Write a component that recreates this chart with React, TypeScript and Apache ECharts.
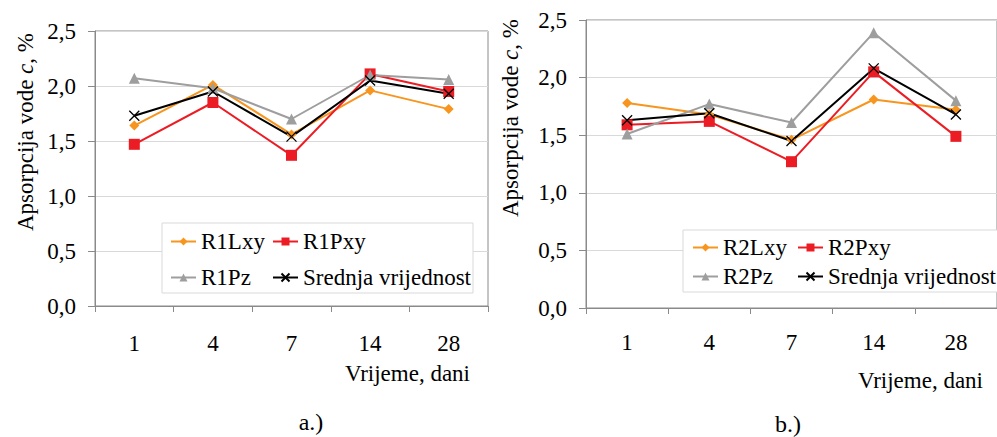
import React, { useEffect, useRef } from "react";
import * as echarts from "echarts";

const categories = ["1", "4", "7", "14", "28"];

const r1Lxy = [1.64, 2.01, 1.56, 1.96, 1.79];
const r1Pxy = [1.47, 1.85, 1.37, 2.11, 1.95];
const r1Pz = [2.07, 1.98, 1.7, 2.1, 2.06];
const r1Mean = [1.73, 1.95, 1.54, 2.05, 1.93];

const r2Lxy = [1.78, 1.68, 1.46, 1.81, 1.72];
const r2Pxy = [1.59, 1.62, 1.27, 2.05, 1.49];
const r2Pz = [1.51, 1.77, 1.61, 2.39, 1.8];
const r2Mean = [1.63, 1.69, 1.45, 2.08, 1.68];

const yMin = 0;
const yMax = 2.5;
const yStep = 0.5;

const yTitle = "Apsorpcija vode {i|c}, %";
const xTitle = "Vrijeme, dani";
const captions = ["a.)", "b.)"];
const meanName = "Srednja vrijednost";

const FONT = "Liberation Serif";
const FS = 23;
const ORANGE = "#F7951E";
const RED = "#EC1C24";
const GRAY = "#9E9E9E";
const BLACK = "#000000";
const AXIS = "#8A8A8A";
const GRID = "#D9D9D9";

const XPATH = "path://M0,0L10,10M0,10L10,0";

function makeSeries(name: string, data: number[], color: string, symbol: string, size: number, idx: number) {
  return {
    type: "line",
    name,
    data,
    xAxisIndex: idx,
    yAxisIndex: idx,
    symbol,
    symbolSize: size,
    lineStyle: { color, width: 2 },
    itemStyle:
      symbol === XPATH
        ? { color: "rgba(0,0,0,0)", borderColor: color, borderWidth: 1.3 }
        : { color, borderColor: color, borderWidth: 0 },
    emphasis: { disabled: true },
    z: 5,
  };
}

function xAxisOpt(idx: number, margin: number) {
  return {
    type: "category",
    gridIndex: idx,
    data: categories,
    boundaryGap: true,
    axisLine: { lineStyle: { color: AXIS, width: 1 } },
    axisTick: { show: true, length: 6, interval: 0, lineStyle: { color: AXIS } },
    axisLabel: { margin, fontSize: FS, fontFamily: FONT, color: BLACK },
    splitLine: { show: false },
  };
}

function yAxisOpt(idx: number) {
  return {
    type: "value",
    gridIndex: idx,
    min: yMin,
    max: yMax,
    interval: yStep,
    axisLine: { show: true, lineStyle: { color: AXIS, width: 1 } },
    axisTick: { show: true, length: 7, lineStyle: { color: AXIS } },
    axisLabel: {
      margin: 19,
      fontSize: FS,
      fontFamily: FONT,
      color: BLACK,
      formatter: (v: number) => v.toFixed(1).replace(".", ","),
    },
    splitLine: { show: true, lineStyle: { color: GRID, width: 1 } },
  };
}

function legendItem(name: string, left: number, top: number) {
  return {
    data: [name],
    left,
    top,
    padding: 0,
    itemWidth: 25,
    itemHeight: 10,
    itemGap: 0,
    selectedMode: false,
    z: 10,
    textStyle: { fontSize: FS, fontFamily: FONT, color: BLACK, padding: [0, 0, 0, 0] },
  };
}

export default function App() {
  const ref = useRef<HTMLDivElement>(null);

  useEffect(() => {
    if (!ref.current) return;
    const chart = echarts.init(ref.current, undefined, { renderer: "svg" });

    const textStyle = (text: string, size = FS) => ({
      text,
      fontSize: size,
      fontFamily: FONT,
      fill: BLACK,
    });

    chart.setOption({
      animation: false,
      backgroundColor: "#ffffff",
      textStyle: { fontFamily: FONT },
      grid: [
        { left: 95, top: 31, width: 393, height: 275, show: true, borderColor: AXIS, borderWidth: 1, containLabel: false },
        { left: 586, top: 20, width: 420, height: 288, show: true, borderColor: AXIS, borderWidth: 1, containLabel: false },
      ],
      xAxis: [xAxisOpt(0, 26), xAxisOpt(1, 23)],
      yAxis: [yAxisOpt(0), yAxisOpt(1)],
      legend: [
        legendItem("R1Lxy", 170, 230),
        legendItem("R1Pxy", 272, 230),
        legendItem("R1Pz", 170, 266),
        legendItem(meanName, 272, 266),
        legendItem("R2Lxy", 692, 236),
        legendItem("R2Pxy", 797, 236),
        legendItem("R2Pz", 692, 265),
        legendItem(meanName, 797, 265),
      ],
      series: [
        makeSeries("R1Lxy", r1Lxy, ORANGE, "diamond", 10, 0),
        makeSeries("R1Pxy", r1Pxy, RED, "rect", 11, 0),
        makeSeries("R1Pz", r1Pz, GRAY, "triangle", 11, 0),
        makeSeries(meanName, r1Mean, BLACK, XPATH, 10, 0),
        makeSeries("R2Lxy", r2Lxy, ORANGE, "diamond", 10, 1),
        makeSeries("R2Pxy", r2Pxy, RED, "rect", 11, 1),
        makeSeries("R2Pz", r2Pz, GRAY, "triangle", 11, 1),
        makeSeries(meanName, r2Mean, BLACK, XPATH, 10, 1),
      ],
      graphic: [
        {
          type: "rect",
          z: 3,
          shape: { x: 162, y: 223, width: 311, height: 70 },
          style: { fill: "#ffffff", stroke: GRID, lineWidth: 1 },
        },
        {
          type: "rect",
          z: 3,
          shape: { x: 683, y: 230, width: 330, height: 62 },
          style: { fill: "#ffffff", stroke: GRID, lineWidth: 1 },
        },
        {
          type: "text",
          z: 10,
          x: 25,
          y: 132,
          rotation: Math.PI / 2,
          style: {
            ...textStyle(yTitle),
            align: "center",
            verticalAlign: "middle",
            rich: { i: { fontStyle: "italic", fontSize: FS, fontFamily: FONT, fill: BLACK } },
          },
        },
        {
          type: "text",
          z: 10,
          x: 510,
          y: 118,
          rotation: Math.PI / 2,
          style: {
            ...textStyle(yTitle),
            align: "center",
            verticalAlign: "middle",
            rich: { i: { fontStyle: "italic", fontSize: FS, fontFamily: FONT, fill: BLACK } },
          },
        },
        {
          type: "text",
          z: 10,
          x: 470,
          y: 373,
          style: { ...textStyle(xTitle), align: "right", verticalAlign: "middle" },
        },
        {
          type: "text",
          z: 10,
          x: 983,
          y: 380,
          style: { ...textStyle(xTitle), align: "right", verticalAlign: "middle" },
        },
        {
          type: "text",
          z: 10,
          x: 311,
          y: 422,
          style: { ...textStyle(captions[0], 24), align: "center", verticalAlign: "middle" },
        },
        {
          type: "text",
          z: 10,
          x: 788,
          y: 424,
          style: { ...textStyle(captions[1], 24), align: "center", verticalAlign: "middle" },
        },
      ],
    });

    return () => chart.dispose();
  }, []);

  return (
    <div
      ref={ref}
      style={{ position: "fixed", left: 0, top: 0, width: 997, height: 437, background: "#fff" }}
    />
  );
}
